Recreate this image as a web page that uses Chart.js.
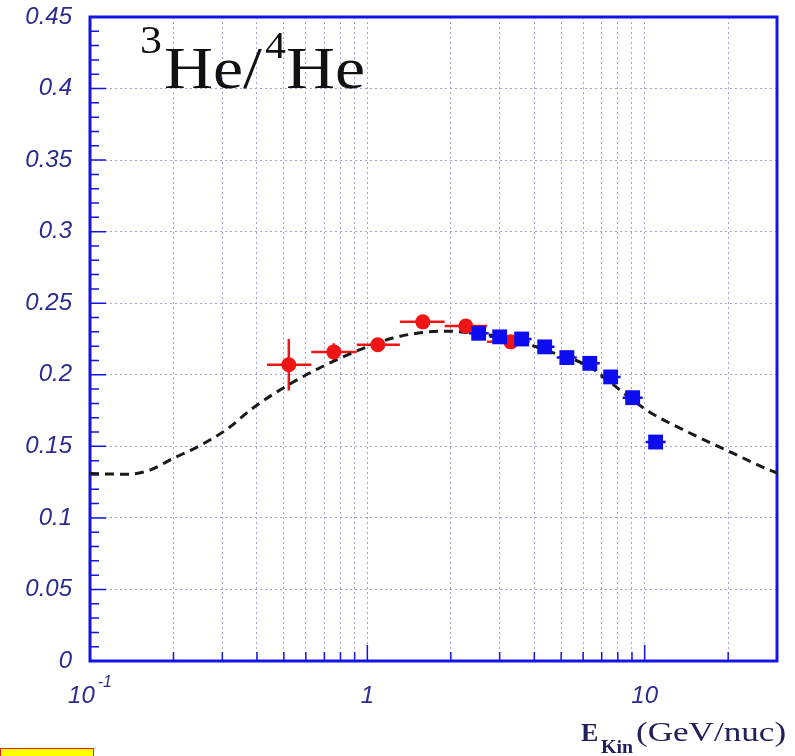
<!DOCTYPE html>
<html><head><meta charset="utf-8">
<script src="https://cdn.jsdelivr.net/npm/chart.js@4.4.1/dist/chart.umd.min.js"></script>
<style>
html,body{margin:0;padding:0;background:#fff;overflow:hidden;}
#wrap{position:relative;width:795px;height:756px;overflow:hidden;}
canvas{position:absolute;left:0;top:0;}
.t{position:absolute;white-space:nowrap;line-height:1;font-family:"Liberation Serif","Times New Roman",serif;transform-origin:0 0;}
#ybox{position:absolute;left:0;top:748px;width:92px;height:12px;background:#ffff00;border:1px solid #e02020;}
</style></head><body>
<div id="wrap">
<canvas id="c" width="795" height="756"></canvas>
<span class="t" style="left:140px;top:20px;font-size:40px;color:#111;transform:scaleX(1.1)">3</span>
<span class="t" style="left:164px;top:38px;font-size:60px;color:#111;transform:scaleX(1.13)">He/</span>
<span class="t" style="left:265px;top:26px;font-size:38px;color:#111;transform:scaleX(1.1)">4</span>
<span class="t" style="left:286px;top:38px;font-size:60px;color:#111;transform:scaleX(1.13)">He</span>
<span class="t" style="left:581px;top:720px;font-size:26px;font-weight:bold;color:#20205a;">E</span>
<span class="t" style="left:601px;top:738px;font-size:18px;font-weight:bold;color:#20205a;transform:scaleX(1.1)">Kin</span>
<span class="t" style="left:636px;top:719px;font-size:27px;color:#20205a;transform:scaleX(1.3)">(GeV/nuc)</span>
<div id="ybox"></div>
</div>
<script>
// ---- data ----
const redE     = [0.521, 0.757, 1.091, 1.585, 2.265, 3.29];
const redR     = [0.207, 0.216, 0.221, 0.237, 0.234, 0.223];
const redELow  = [0.435, 0.628, 0.916, 1.31, 1.90, 2.70];
const redEHigh = [0.628, 0.916, 1.31, 1.90, 2.70, 3.85];
const redErr   = [0.018, 0.006, 0.004, 0.004, 0.004, 0.004];

const blueE     = [2.52, 3.00, 3.60, 4.36, 5.24, 6.34, 7.54, 9.05, 10.95];
const blueR     = [0.229, 0.2265, 0.225, 0.2195, 0.212, 0.208, 0.1985, 0.184, 0.153];
const blueELow  = [2.32, 2.76, 3.31, 4.01, 4.82, 5.84, 6.94, 8.33, 10.08];
const blueEHigh = [2.74, 3.26, 3.91, 4.73, 5.69, 6.89, 8.19, 9.83, 11.9];
const blueErr   = [0.003, 0.003, 0.003, 0.003, 0.003, 0.003, 0.003, 0.004, 0.004];

const curveE = [0.1, 0.136, 0.165, 0.199, 0.249, 0.312, 0.387, 0.526, 0.757, 0.996, 1.236, 1.638, 1.934, 2.54, 3.24, 4.36, 6.34, 7.6, 9.05, 10.4, 14.3, 19.7, 28.7, 30];
const curveR = [0.131, 0.1305, 0.1335, 0.1415, 0.1505, 0.162, 0.1768, 0.1936, 0.2096, 0.2194, 0.2257, 0.2299, 0.2305, 0.2285, 0.2257, 0.2173, 0.2055, 0.194, 0.1824, 0.174, 0.160, 0.1474, 0.1328, 0.1315];

const yTickVals   = [0, 0.05, 0.1, 0.15, 0.2, 0.25, 0.3, 0.35, 0.4, 0.45];
const yTickLabels = ['0', '0.05', '0.1', '0.15', '0.2', '0.25', '0.3', '0.35', '0.4', '0.45'];
const yMinorVals  = [0.01,0.02,0.03,0.04,0.06,0.07,0.08,0.09,0.11,0.12,0.13,0.14,0.16,0.17,0.18,0.19,0.21,0.22,0.23,0.24,0.26,0.27,0.28,0.29,0.31,0.32,0.33,0.34,0.36,0.37,0.38,0.39,0.41,0.42,0.43,0.44];
const xGridVals   = [0.1,0.2,0.3,0.4,0.5,0.6,0.7,0.8,0.9,1,2,3,4,5,6,7,8,9,10,20,30];
const xMajorVals  = [0.1, 1, 10];
const xLabelBase  = ['10', '1', '10'];
const xLabelSup   = ['-1', '', ''];

const RED = '#f01414', BLUE = '#0c0cee', FRAME = '#1414e6', LBL = '#2a2a90';

const toXY = (xs, ys) => xs.map((v, i) => ({x: v, y: ys[i]}));

const extra = {
  id: 'extra',
  beforeDatasetsDraw(chart) {
    const {ctx, chartArea: a, scales: {x, y}} = chart;
    ctx.save();
    ctx.strokeStyle = FRAME; ctx.lineWidth = 3;
    ctx.strokeRect(a.left, a.top, a.right - a.left, a.bottom - a.top);
    ctx.lineWidth = 1.5;
    ctx.beginPath();
    yTickVals.forEach(v => { const p = y.getPixelForValue(v); ctx.moveTo(a.left, p); ctx.lineTo(a.left + 16, p); });
    yMinorVals.forEach(v => { const p = y.getPixelForValue(v); ctx.moveTo(a.left, p); ctx.lineTo(a.left + 9, p); });
    xGridVals.forEach(v => {
      const p = x.getPixelForValue(v);
      const len = xMajorVals.includes(v) ? 16 : 9;
      ctx.moveTo(p, a.bottom); ctx.lineTo(p, a.bottom - len);
    });
    ctx.stroke();
    const bars = (E, R, lo, hi, er, col, lw) => {
      ctx.strokeStyle = col; ctx.lineWidth = lw;
      ctx.beginPath();
      E.forEach((e, i) => {
        const px = x.getPixelForValue(e), py = y.getPixelForValue(R[i]);
        ctx.moveTo(x.getPixelForValue(lo[i]), py); ctx.lineTo(x.getPixelForValue(hi[i]), py);
        ctx.moveTo(px, y.getPixelForValue(R[i] - er[i])); ctx.lineTo(px, y.getPixelForValue(R[i] + er[i]));
      });
      ctx.stroke();
    };
    bars(redE, redR, redELow, redEHigh, redErr, RED, 2.5);
    bars(blueE, blueR, blueELow, blueEHigh, blueErr, BLUE, 2.5);
    ctx.restore();
  },
  afterDraw(chart) {
    const {ctx, chartArea: a, scales: {x}} = chart;
    ctx.save();
    ctx.fillStyle = LBL;
    ctx.textBaseline = 'alphabetic';
    const base = a.bottom + 42;
    xMajorVals.forEach((v, i) => {
      const p = x.getPixelForValue(v);
      ctx.font = 'italic 24px "Liberation Sans", Arial, sans-serif';
      const w1 = ctx.measureText(xLabelBase[i]).width;
      let w2 = 0;
      if (xLabelSup[i]) { ctx.font = 'italic 16px "Liberation Sans", Arial, sans-serif'; w2 = ctx.measureText(xLabelSup[i]).width + 3; }
      const left = p - (w1 + w2) / 2;
      ctx.font = 'italic 24px "Liberation Sans", Arial, sans-serif';
      ctx.fillText(xLabelBase[i], left, base);
      if (xLabelSup[i]) {
        ctx.font = 'italic 16px "Liberation Sans", Arial, sans-serif';
        ctx.fillText(xLabelSup[i], left + w1 + 3, base - 16);
      }
    });
    ctx.restore();
  }
};

new Chart(document.getElementById('c'), {
  type: 'scatter',
  data: {
    datasets: [
      {data: toXY(blueE, blueR), pointStyle: 'rect', pointRadius: 10.5, backgroundColor: BLUE, borderColor: BLUE, borderWidth: 0},
      {data: toXY(redE, redR), pointStyle: 'circle', pointRadius: 7.5, backgroundColor: RED, borderColor: RED, borderWidth: 0},
      {data: toXY(curveE, curveR), showLine: true, pointRadius: 0, borderColor: '#1a1a1a', borderWidth: 3, borderDash: [9, 6], cubicInterpolationMode: 'monotone', fill: false}
    ]
  },
  options: {
    responsive: false, animation: false, devicePixelRatio: 1,
    layout: {padding: {top: 17, right: 18, left: 0, bottom: 0}},
    plugins: {legend: {display: false}, tooltip: {enabled: false}},
    scales: {
      x: {
        type: 'logarithmic', min: 0.1, max: 30,
        afterBuildTicks: s => { s.ticks = xGridVals.map(v => ({value: v})); },
        afterFit: s => { s.height = 95; s.paddingLeft = 0; s.paddingRight = 0; },
        ticks: {autoSkip: false, callback: () => '', maxRotation: 0},
        grid: {color: '#9ea4d6', lineWidth: 1, drawTicks: false},
        border: {display: false, dash: [2, 3]}
      },
      y: {
        min: 0, max: 0.45,
        afterBuildTicks: s => { s.ticks = yTickVals.map(v => ({value: v})); },
        afterFit: s => { s.width = 90; s.paddingTop = 0; s.paddingBottom = 0; },
        ticks: {
          autoSkip: false, padding: 18, color: LBL,
          font: {family: '"Liberation Sans", Arial, sans-serif', size: 24, style: 'italic'},
          callback: (v, i) => yTickLabels[i]
        },
        grid: {color: '#9ea4d6', lineWidth: 1, drawTicks: false},
        border: {display: false, dash: [2, 3]}
      }
    }
  },
  plugins: [extra]
});
</script>
</body></html>
